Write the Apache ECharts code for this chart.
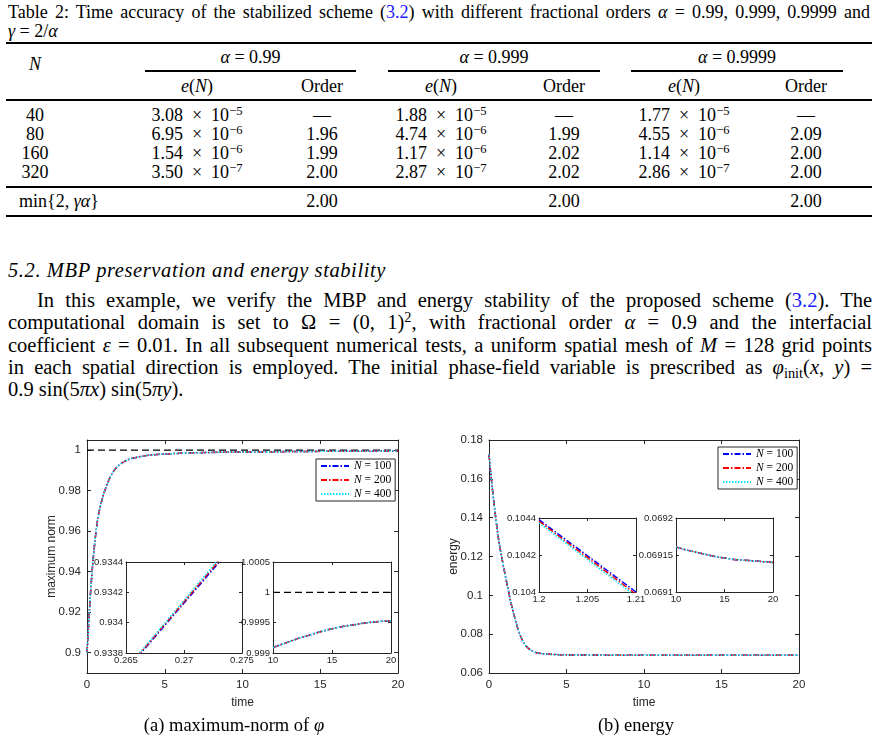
<!DOCTYPE html>
<html>
<head>
<meta charset="utf-8">
<script src="https://cdn.jsdelivr.net/npm/echarts@6/dist/echarts.min.js"></script>
<style>
  body { margin: 0; background: #fff; }
  #page { position: relative; width: 877px; height: 743px; overflow: hidden; font-family: 'Liberation Serif', serif; color: #000; }
  .t { position: absolute; white-space: nowrap; line-height: 1; }
  .j { position: absolute; white-space: nowrap; line-height: 1; text-align: justify; text-align-last: justify; }
  .rule { position: absolute; background: #000; }
  .link { color: #1a1aff; }
  sup { font-size: 70%; line-height: 0; vertical-align: 0.5em; }
  sub { font-size: 70%; line-height: 0; vertical-align: -0.25em; }
  #chart { position: absolute; left: 0; top: 0; width: 877px; height: 743px; }
</style>
</head>
<body>
<div id="page">
  <div id="chart"></div>
</div>
<script>
// ---- table values ----
var tableN = [40, 80, 160, 320];
var errA1 = [['3.08', -5], ['6.95', -6], ['1.54', -6], ['3.50', -7]];
var errA2 = [['1.88', -5], ['4.74', -6], ['1.17', -6], ['2.87', -7]];
var errA3 = [['1.77', -5], ['4.55', -6], ['1.14', -6], ['2.86', -7]];
var ordA1 = ['—', '1.96', '1.99', '2.00'];
var ordA2 = ['—', '1.99', '2.02', '2.02'];
var ordA3 = ['—', '2.09', '2.00', '2.00'];
var minOrder = ['2.00', '2.00', '2.00'];

// ---- figure (a): maximum norm ----
var tNorm = [0, 0.05, 0.1, 0.15, 0.2, 0.27, 0.35, 0.45, 0.6, 0.75, 1, 1.25, 1.5, 1.75, 2, 2.5, 3, 3.5, 4, 5, 6, 7, 8, 9, 10, 12, 14, 16, 18, 20];
var maxNorm = [0.9, 0.9065, 0.9135, 0.92, 0.9265, 0.9341, 0.942, 0.9505, 0.961, 0.9685, 0.9765, 0.9822, 0.9868, 0.99, 0.9922, 0.9948, 0.9961, 0.9969, 0.9975, 0.9981, 0.99845, 0.9987, 0.99885, 0.99898, 0.99909, 0.99923, 0.99935, 0.99944, 0.9995, 0.99953];
// inset near t = 0.27
var tZoomA = [0.266, 0.268, 0.270, 0.272, 0.274];
var normZoom100 = [0.933774, 0.933952, 0.934129, 0.934307, 0.934484];
var normZoom200 = [0.933779, 0.933959, 0.934138, 0.934317, 0.934497];
var normZoom400 = [0.933784, 0.933965, 0.934147, 0.934328, 0.934510];
// inset t in [10, 20]
var tLate = [10, 11, 12, 13, 14, 15, 16, 17, 18, 19, 20];
var normLate = [0.99909, 0.99916, 0.99923, 0.99929, 0.99935, 0.9994, 0.99944, 0.99947, 0.9995, 0.99952, 0.99953];

// ---- figure (b): energy ----
var tEnergy = [0, 0.1, 0.2, 0.3, 0.4, 0.5, 0.6, 0.8, 1.0, 1.2, 1.4, 1.6, 1.8, 2.0, 2.25, 2.5, 2.75, 3, 3.5, 4, 5, 6, 8, 10, 12, 14, 16, 18, 20];
var energy = [0.1726, 0.164, 0.1562, 0.149, 0.1422, 0.1358, 0.1298, 0.1205, 0.1122, 0.1044, 0.0967, 0.0903, 0.0845, 0.0797, 0.0755, 0.073, 0.0715, 0.0706, 0.0699, 0.0696, 0.06935, 0.06925, 0.06919, 0.069161, 0.069154, 0.069148, 0.069144, 0.069142, 0.06914];
var tZoomB = [1.2, 1.2025, 1.205, 1.2075, 1.21];
var energyZoom100 = [0.104391, 0.104293, 0.104196, 0.104098, 0.104000];
var energyZoom200 = [0.104383, 0.104284, 0.104186, 0.104087, 0.103988];
var energyZoom400 = [0.104374, 0.104275, 0.104175, 0.104076, 0.103976];
var energyLate = [0.069161, 0.069157, 0.069154, 0.069151, 0.069148, 0.069146, 0.069144, 0.069143, 0.069142, 0.069141, 0.06914];

// ---- ticks ----
var timeTicks = [0, 5, 10, 15, 20];
var normTicks = [0.9, 0.92, 0.94, 0.96, 0.98, 1];
var energyTicks = [0.06, 0.08, 0.1, 0.12, 0.14, 0.16, 0.18];

var seriesNames = ['N = 100', 'N = 200', 'N = 400'];

// ============ text part (HTML) ============
var page = document.getElementById('page');
function put(html, x, y, size, opts) {
  opts = opts || {};
  var d = document.createElement('div');
  d.className = opts.justify ? 'j' : 't';
  d.innerHTML = html;
  d.style.fontSize = size + 'px';
  d.style.top = (y - 0.51 * size) + 'px';
  d.style.left = x + 'px';
  if (opts.justify) {
    d.style.width = opts.width + 'px';
  } else if (opts.center) {
    d.style.transform = 'translateX(-50%)';
  }
  if (opts.italic) d.style.fontStyle = 'italic';
  if (opts.spacing) d.style.letterSpacing = opts.spacing + 'px';
  page.insertBefore(d, page.firstChild);
  return d;
}
function rule(x1, x2, y, w) {
  var d = document.createElement('div');
  d.className = 'rule';
  d.style.left = x1 + 'px';
  d.style.width = (x2 - x1) + 'px';
  d.style.top = (y - w / 2) + 'px';
  d.style.height = w + 'px';
  page.insertBefore(d, page.firstChild);
}
function sci(e) { return e[0] + '&ensp;×&ensp;10<sup>−' + (-e[1]) + '</sup>'; }

var TS = 18;
put('Table 2: Time accuracy of the stabilized scheme (<span class="link">3.2</span>) with different fractional orders <i>α</i> = 0.99, 0.999, 0.9999 and', 8, 12, TS, { justify: true, width: 862 });
put('<i>γ</i> = 2/<i>α</i>', 8, 31, TS);
rule(6, 872, 43, 1.6);
put('<i>N</i>', 35, 64, TS, { center: true });
var alphaLbl = ['0.99', '0.999', '0.9999'];
var grpX = [[145, 356], [388, 600], [631, 843]];
var errX = [197, 441, 684];
var ordX = [322, 564, 806];
for (var k = 0; k < 3; k++) {
  put('<i>α</i> = ' + alphaLbl[k], (grpX[k][0] + grpX[k][1]) / 2, 57, TS, { center: true });
  rule(grpX[k][0], grpX[k][1], 71, 1.1);
  put('<i>e</i>(<i>N</i>)', errX[k], 86, TS, { center: true });
  put('Order', ordX[k], 86, TS, { center: true });
}
rule(6, 872, 100, 1.3);
var rowY = [115, 134, 153, 172];
var errs = [errA1, errA2, errA3];
var ords = [ordA1, ordA2, ordA3];
for (var r = 0; r < tableN.length; r++) {
  put(String(tableN[r]), 35, rowY[r], TS, { center: true });
  for (var k2 = 0; k2 < 3; k2++) {
    put(sci(errs[k2][r]), errX[k2], rowY[r], TS, { center: true });
    put(ords[k2][r], ordX[k2], rowY[r], TS, { center: true });
  }
}
rule(6, 872, 187, 1.3);
put('min{2, <i>γα</i>}', 19, 201, TS);
for (var k3 = 0; k3 < 3; k3++) put(minOrder[k3], ordX[k3], 201, TS, { center: true });
rule(6, 872, 216, 1.6);

var PS = 20.5;
put('5.2. MBP preservation and energy stability', 8, 270, PS, { italic: true, spacing: 0.6 });
put('In this example, we verify the MBP and energy stability of the proposed scheme (<span class="link">3.2</span>). The', 37, 300, PS, { justify: true, width: 835 });
put('computational domain is set to Ω = (0, 1)<sup>2</sup>, with fractional order <i>α</i> = 0.9 and the interfacial', 8, 322, PS, { justify: true, width: 864 });
put('coefficient <i>ε</i> = 0.01. In all subsequent numerical tests, a uniform spatial mesh of <i>M</i> = 128 grid points', 8, 345, PS, { justify: true, width: 864 });
put('in each spatial direction is employed. The initial phase-field variable is prescribed as <i>φ</i><sub>init</sub>(<i>x</i>, <i>y</i>) =', 8, 367, PS, { justify: true, width: 864 });
put('0.9 sin(5<i>πx</i>) sin(5<i>πy</i>).', 8, 389, PS);

// ============ charts (ECharts) ============
var AX = '#262626';
var SANS = 'Liberation Sans, Arial, sans-serif';
var grids = [], xAxes = [], yAxes = [], series = [];

function axisPair(list, g, r, pos, mirror, o) {
  var line = { show: true, onZero: false, lineStyle: { color: AX, width: 1 } };
  var tick = { show: true, inside: true, length: o.tick, lineStyle: { color: AX, width: 1 } };
  var lab = { show: true, color: AX, fontSize: o.fs, fontFamily: SANS, margin: o.margin };
  var a = { type: 'value', gridIndex: g, min: r.min, max: r.max, position: pos, axisLine: line,
            axisTick: tick, axisLabel: lab, splitLine: { show: false } };
  var b = { type: 'value', gridIndex: g, min: r.min, max: r.max, position: mirror, axisLine: line,
            axisTick: Object.assign({}, tick), axisLabel: { show: false }, splitLine: { show: false } };
  if (r.ticks) {
    a.axisTick.customValues = r.ticks; a.axisLabel.customValues = r.ticks;
    b.axisTick.customValues = r.ticks;
  } else {
    a.interval = r.step; b.interval = r.step;
  }
  if (o.name) {
    a.name = o.name; a.nameLocation = 'middle'; a.nameGap = o.nameGap; a.nameMoveOverlap = false;
    a.nameTextStyle = { color: AX, fontSize: 12, fontFamily: SANS };
  }
  list.push(a, b);
  return list.length - 2;
}

function panel(box, xr, yr, o) {
  var g = grids.length;
  grids.push({ left: box[0], top: box[1], width: box[2], height: box[3], show: true,
               backgroundColor: '#fff', borderWidth: 0 });
  var xi = axisPair(xAxes, g, xr, 'bottom', 'top', { tick: o.tick, fs: o.fs, margin: o.xm, name: o.xname, nameGap: o.xgap });
  var yi = axisPair(yAxes, g, yr, 'left', 'right', { tick: o.tick, fs: o.fs, margin: o.ym, name: o.yname, nameGap: o.ygap });
  return { x: xi, y: yi };
}

var lineKinds = [
  { color: '#0000ff', type: [6, 2, 1.5, 2] },
  { color: '#ff0000', type: [6, 2, 1.5, 2] },
  { color: '#00e5ff', type: [1.5, 1.5] }
];

function addLine(p, name, xs, ys, kind, smooth) {
  series.push({
    type: 'line', name: name, xAxisIndex: p.x, yAxisIndex: p.y,
    data: xs.map(function (x, i) { return [x, ys[i]]; }),
    symbol: 'none', smooth: smooth ? 0.3 : false, silent: true, animation: false,
    lineStyle: { color: kind.color, type: kind.type, width: 1.5 },
    itemStyle: { color: kind.color }
  });
}
function addRef(p, xs, level) {
  series.push({
    type: 'line', name: 'ref', xAxisIndex: p.x, yAxisIndex: p.y,
    data: xs.map(function (x) { return [x, level]; }),
    symbol: 'none', silent: true, animation: false,
    lineStyle: { color: '#000', type: [7, 4], width: 1.4 }
  });
}

var mainOpt = { tick: 4, fs: 11.5, xm: 6, ym: 6, xname: 'time', xgap: 24 };
var insetOpt = { tick: 3, fs: 9.5, xm: 2, ym: 3 };

// (a)
var pA = panel([87, 440, 311, 233], { min: 0, max: 20, step: 5 }, { min: 0.89, max: 1.005, ticks: normTicks },
  Object.assign({}, mainOpt, { yname: 'maximum norm', ygap: 29 }));
addRef(pA, [0, 20], 1);
for (var s = 0; s < 3; s++) addLine(pA, seriesNames[s], tNorm, maxNorm, lineKinds[s], true);

var pA1 = panel([126, 562, 116, 91], { min: 0.265, max: 0.275, step: 0.005 }, { min: 0.9338, max: 0.9344, step: 0.0002 }, insetOpt);
var normZooms = [normZoom100, normZoom200, normZoom400];
for (s = 0; s < 3; s++) addLine(pA1, seriesNames[s], tZoomA, normZooms[s], lineKinds[s], false);

var pA2 = panel([273, 562, 118, 91], { min: 10, max: 20, step: 5 }, { min: 0.999, max: 1.0005, step: 0.0005 }, insetOpt);
addRef(pA2, [10, 20], 1);
for (s = 0; s < 3; s++) addLine(pA2, seriesNames[s], tLate, normLate, lineKinds[s], true);

// (b)
var pB = panel([489, 440, 310, 233], { min: 0, max: 20, step: 5 }, { min: 0.06, max: 0.18, step: 0.02 },
  Object.assign({}, mainOpt, { yname: 'energy', ygap: 29 }));
for (s = 0; s < 3; s++) addLine(pB, seriesNames[s], tEnergy, energy, lineKinds[s], true);

var pB1 = panel([539, 518, 97, 74], { min: 1.2, max: 1.21, step: 0.005 }, { min: 0.104, max: 0.1044, step: 0.0002 }, insetOpt);
var energyZooms = [energyZoom100, energyZoom200, energyZoom400];
for (s = 0; s < 3; s++) addLine(pB1, seriesNames[s], tZoomB, energyZooms[s], lineKinds[s], false);

var pB2 = panel([676, 518, 97, 74], { min: 10, max: 20, step: 5 }, { min: 0.0691, max: 0.0692, step: 0.00005 }, insetOpt);
for (s = 0; s < 3; s++) addLine(pB2, seriesNames[s], tLate, energyLate, lineKinds[s], true);

function legendAt(left, top) {
  return {
    data: seriesNames, orient: 'vertical', left: left, top: top,
    backgroundColor: '#fff', borderColor: AX, borderWidth: 1, borderRadius: 0,
    padding: [1, 4, 1, 4], itemGap: 2, itemWidth: 28, itemHeight: 10,
    selectedMode: false,
    itemStyle: { opacity: 0 },
    formatter: function (n) { return '{i|N} = ' + n.split('= ')[1]; },
    textStyle: { fontFamily: 'Liberation Serif', fontSize: 11.5, color: '#000', lineHeight: 12,
                 rich: { i: { fontStyle: 'italic', fontFamily: 'Liberation Serif', fontSize: 11.5 } } }
  };
}

var chart = echarts.init(document.getElementById('chart'), null, { renderer: 'canvas' });
chart.setOption({
  animation: false,
  grid: grids,
  xAxis: xAxes,
  yAxis: yAxes,
  legend: [legendAt(316, 459), legendAt(718, 447)],
  series: series,
  graphic: [
    { type: 'text', z: 10,
      style: { text: '(a) maximum-norm of {i|φ}', x: 234, y: 726, textAlign: 'center', textVerticalAlign: 'middle',
               font: '18.5px Liberation Serif', fill: '#000',
               rich: { i: { fontStyle: 'italic', fontFamily: 'Liberation Serif', fontSize: 18.5 } } } },
    { type: 'text', z: 10,
      style: { text: '(b) energy', x: 636, y: 726, textAlign: 'center', textVerticalAlign: 'middle',
               font: '18.5px Liberation Serif', fill: '#000' } }
  ]
});
</script>
</body>
</html>
